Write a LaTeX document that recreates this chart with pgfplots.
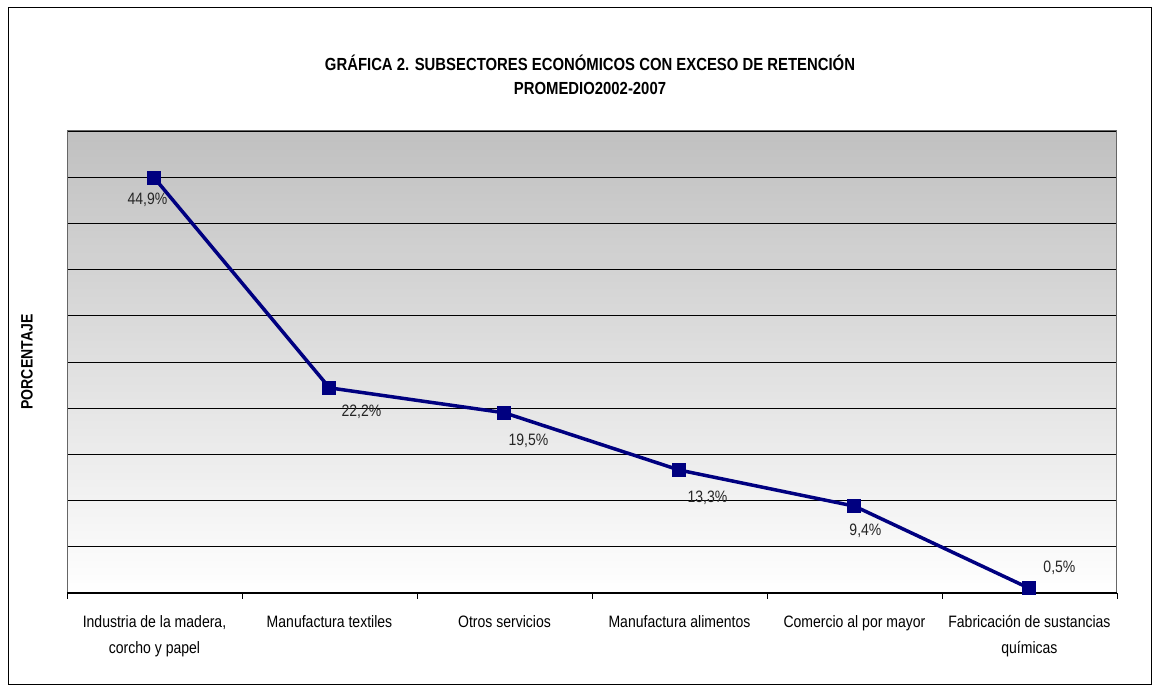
\documentclass[border=0pt]{standalone}
\usepackage{pgfplots}
\pgfplotsset{compat=1.18}
\usepackage{fontspec}
\setmainfont[FakeStretch=0.85]{Liberation Sans}
\definecolor{navyline}{RGB}{0,0,128}
\begin{document}
\begin{tikzpicture}[x=1pt,y=1pt]
\useasboundingbox (0,0) rectangle (1159,690);
\draw[black, line width=1pt] (8,5) rectangle (1151,682);
\node[font=\fontsize{17.5}{20}\selectfont\bfseries, align=center] at (590,615) {GRÁFICA 2. SUBSECTORES ECONÓMICOS CON EXCESO DE RETENCIÓN\\[4pt]PROMEDIO2002-2007};
\node[font=\fontsize{16.5}{18}\selectfont\bfseries, rotate=90] at (27,328) {PORCENTAJE};
\begin{axis}[
  at={(67pt,97pt)}, anchor=south west,
  width=1050pt, height=462pt, scale only axis,
  xmin=0.5, xmax=6.5, ymin=0, ymax=50,
  xtick={0.5,1.5,...,6.5}, xticklabels={},
  ytick={0,5,...,50}, yticklabels={},
  tick pos=lower, tick align=outside,
  major tick length=6pt,
  y tick style={draw=none},
  x tick style={black, line width=0.8pt},
  ymajorgrids, grid style={black, line width=0.6pt},
  axis line style={gray!80!black, line width=1pt},
  axis background/.style={shade, top color={rgb,255:red,192;green,192;blue,192}, bottom color=white},
  extra x ticks={1,2,3,4,5,6},
  extra x tick labels={{Industria de la madera,\\corcho y papel},{Manufactura textiles},{Otros servicios},{Manufactura alimentos},{Comercio al por mayor},{Fabricación de sustancias\\químicas}},
  extra x tick style={major tick length=0pt, grid=none, xticklabel style={align=center, font=\fontsize{16.5}{26}\selectfont, yshift=-19pt, anchor=north}},
  clip=false,
]
\addplot[navyline, line width=3.5pt, mark=square*, mark size=6.5pt, mark options={solid, fill=navyline, line width=0pt}] coordinates {
(1,44.9) (2,22.2) (3,19.5) (4,13.3) (5,9.4) (6,0.5)
};
\draw[black, line width=1pt] (axis cs:0.5,0) -- (axis cs:6.5,0);
\begin{scope}[every node/.style={font=\fontsize{16.5}{18}\selectfont, text=black!85}]
\node at (axis cs:1,44.9) [xshift=-7pt, yshift=-22pt] {44,9\%};
\node at (axis cs:2,22.2) [xshift=32pt, yshift=-24pt] {22,2\%};
\node at (axis cs:3,19.5) [xshift=24pt, yshift=-28pt] {19,5\%};
\node at (axis cs:4,13.3) [xshift=28pt, yshift=-28pt] {13,3\%};
\node at (axis cs:5,9.4) [xshift=11pt, yshift=-25pt] {9,4\%};
\node at (axis cs:6,0.5) [xshift=30pt, yshift=21pt] {0,5\%};
\end{scope}
\end{axis}
\end{tikzpicture}
\end{document}
